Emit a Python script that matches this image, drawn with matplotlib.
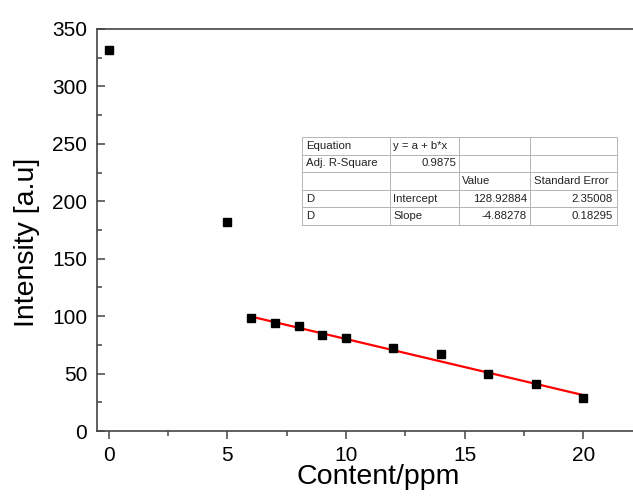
import matplotlib
matplotlib.use('Agg')
import matplotlib.pyplot as plt
import numpy as np
from matplotlib.ticker import MultipleLocator

plt.rcParams['font.family'] = ['Liberation Sans', 'DejaVu Sans']

content = [0, 5, 6, 7, 8, 9, 10, 12, 14, 16, 18, 20]
intensity = [332, 182, 98, 94, 91, 84, 81, 72, 67, 50, 41, 29]

# linear fit results (from the fit table)
intercept = 128.92884
slope = -4.88278
fit_x = [6, 20]

table_rows = [
    ['Equation', 'y = a + b*x', '', ''],
    ['Adj. R-Square', '0.9875', '', ''],
    ['', '', 'Value', 'Standard Error'],
    ['D', 'Intercept', '128.92884', '2.35008'],
    ['D', 'Slope', '-4.88278', '0.18295'],
]
right_cells = [(1, 1), (3, 2), (3, 3), (4, 2), (4, 3)]

fig = plt.figure(figsize=(6.33, 4.98), dpi=100)
ax = fig.add_axes([0.1532, 0.1345, 0.8468, 0.8073])

ax.plot(content, intensity, 's', color='black', markersize=6, zorder=3)
fx = np.array(fit_x, dtype=float)
ax.plot(fx, intercept + slope * fx, '-', color='red', linewidth=1.6, zorder=2)

ax.set_xlim(-0.5, 22.1)
ax.set_ylim(0, 350)
ax.xaxis.set_major_locator(MultipleLocator(5))
ax.xaxis.set_minor_locator(MultipleLocator(2.5))
ax.yaxis.set_major_locator(MultipleLocator(50))
ax.yaxis.set_minor_locator(MultipleLocator(25))

for s in ['left', 'bottom', 'top']:
    ax.spines[s].set_color('#444444')
    ax.spines[s].set_linewidth(1.2)
ax.spines['right'].set_visible(False)

ax.tick_params(axis='x', which='major', direction='out', length=6, width=1.1,
               color='#444444', labelsize=15, pad=5)
ax.tick_params(axis='x', which='minor', direction='out', length=3.5, width=1.1,
               color='#444444')
ax.tick_params(axis='y', which='major', direction='in', length=6, width=1.1,
               color='#444444', labelsize=15, pad=7)
ax.tick_params(axis='y', which='minor', direction='in', length=3.5, width=1.1,
               color='#444444')

ax.set_xlabel('Content/ppm', fontsize=20.5)
ax.set_ylabel('Intensity [a.u]', fontsize=20.5)
ax.xaxis.set_label_coords(0.524, -0.083)
ax.yaxis.set_label_coords(-0.106, 0.468)

tbl = ax.table(cellText=table_rows, colWidths=[0.279, 0.219, 0.225, 0.276],
               bbox=[0.3825, 0.5124, 0.5877, 0.2189], cellLoc='left')
tbl.auto_set_font_size(False)
for (r, c), cell in tbl.get_celld().items():
    cell.set_edgecolor('#b4b4b4')
    cell.set_linewidth(0.7)
    cell.get_text().set_fontsize(8.2)
    cell.get_text().set_color('#222222')
    cell.PAD = 0.045
    if (r, c) in right_cells:
        cell.get_text().set_horizontalalignment('right')
        cell._loc = 'right'

fig.savefig('out.png', dpi=100)
